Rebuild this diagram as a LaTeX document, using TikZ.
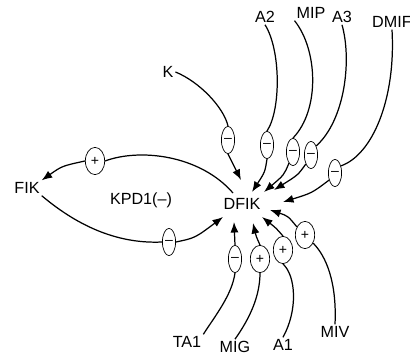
\documentclass[tikz,border=0pt]{standalone}
\usepackage{fontspec}
\setmainfont{Liberation Sans}
\usetikzlibrary{shapes.geometric,arrows.meta}
\tikzset{
  lbl/.style={anchor=center,inner sep=1pt,font=\fontsize{9.2}{11}\selectfont},
  sgn/.style={draw,ellipse,inner sep=0pt,minimum width=7.5pt,minimum height=15.5pt,font=\fontsize{8}{9}\selectfont},
  psgn/.style={sgn,minimum width=11pt},
  lnk/.style={line width=0.7pt},
  act/.style={lnk,-{Latex[length=6pt,width=4.6pt]}}
}
\begin{document}
\begin{tikzpicture}[x=0.02cm,y=-0.02cm]
    \useasboundingbox (0,0) rectangle (410,355);
    % labels
    \node[lbl] (dfik) at (242,204) {DFIK};
    \node[lbl] (fik) at (27,188) {FIK};
    \node[lbl] (kpd) at (141,200) {KPD1(--)};
    \node[lbl] (k) at (168,72) {K};
    \node[lbl] (a2) at (265,17) {A2};
    \node[lbl] (mip) at (311,13) {MIP};
    \node[lbl] (a3) at (342,17) {A3};
    \node[lbl] (dmif) at (392,22) {DMIF};
    \node[lbl] (ta1) at (187,342) {TA1};
    \node[lbl] (mig) at (235,347) {MIG};
    \node[lbl] (a1) at (283,345) {A1};
    \node[lbl] (miv) at (335,332) {MIV};
    % signs
    \node[sgn] (kS) at (228,140) {--};
    \node[sgn] (a2S) at (267,145) {--};
    \node[sgn] (mipS) at (293,152) {--};
    \node[sgn] (a3S) at (311,155) {--};
    \node[sgn] (dmifS) at (335,173) {--};
    \node[psgn] (fikP) at (95,161) {+};
    \node[sgn] (fikM) at (169,242) {--};
    \node[sgn] (ta1S) at (235,259) {--};
    \node[psgn] (migS) at (260,259) {+};
    \node[psgn] (a1S) at (283,250) {+};
    \node[psgn] (mivS) at (305,235) {+};
    % inputs from above
    \draw[lnk] (k.east) .. controls (200,82) and (224,108) .. (kS.north);
    \draw[act] (kS.south) -- ([shift={(-1,-24)}]dfik.center);
    \draw[lnk] (a2.south) .. controls (281,50) and (281,110) .. (a2S.north);
    \draw[act] (a2S.south) .. controls (265,172) .. ([shift={(10,-12)}]dfik.center);
    \draw[lnk] (mip.south west) .. controls (318,50) and (320,110) .. (mipS.north);
    \draw[act] (mipS.-110) .. controls (284,175) .. ([shift={(22,-12)}]dfik.center);
    \draw[lnk] (a3.south) .. controls (352,60) and (345,120) .. (a3S.60);
    \draw[act] (a3S.-120) .. controls (298,175) .. ([shift={(32,-14)}]dfik.center);
    \draw[lnk] (dmif.south) .. controls (396,100) and (372,155) .. (dmifS.50);
    \draw[act] (dmifS.-130) .. controls (312,193) .. ([shift={(41,-2)}]dfik.center);
    % loop with FIK
    \draw[lnk] ([shift={(-9,-11)}]dfik.center) .. controls (200,155) and (140,148) .. (fikP.east);
    \draw[act] (fikP.west) .. controls (62,166) .. (fik.north east);
    \draw[lnk] (fik.south east) .. controls (80,228) and (120,244) .. (fikM.west);
    \draw[act] (fikM.east) .. controls (195,238) .. ([shift={(-19,13)}]dfik.center);
    % inputs from below
    \draw[lnk] (ta1.north east) .. controls (215,316) and (232,295) .. (ta1S.south);
    \draw[act] (ta1S.north) -- ([shift={(-8,18)}]dfik.center);
    \draw[lnk] (mig.north) .. controls (250,318) and (260,296) .. (migS.south);
    \draw[act] (migS.north) .. controls (256,236) .. ([shift={(11,19)}]dfik.center);
    \draw[lnk] (a1.north) .. controls (298,310) and (296,276) .. (a1S.south);
    \draw[act] (a1S.north) .. controls (276,228) .. ([shift={(20,13)}]dfik.center);
    \draw[lnk] (miv.north) .. controls (337,282) and (326,256) .. (mivS.-45);
    \draw[act] (mivS.135) .. controls (288,216) .. ([shift={(28,6)}]dfik.center);
\end{tikzpicture}
\end{document}
